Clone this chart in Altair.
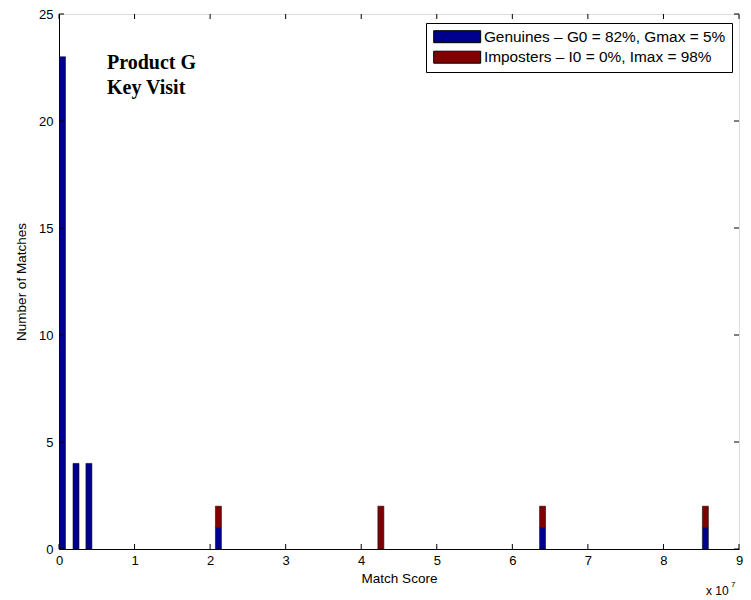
import altair as alt
import pandas as pd

# Bin centres (in units of 1e7) and counts per series
centers = [0.046, 0.225, 0.396, 2.11, 4.26, 6.40, 8.555]
genuines = [23, 4, 4, 1, 0, 1, 1]
imposters = [0, 0, 0, 1, 2, 1, 1]
series = ["Genuines \u2013 G0 = 82%, Gmax = 5%", "Imposters \u2013 I0 = 0%, Imax = 98%"]
colors = ["#00008F", "#800000"]
x_ticks = [0, 1, 2, 3, 4, 5, 6, 7, 8, 9]
y_ticks = [0, 5, 10, 15, 20, 25]
annotation = ["Product G", "Key Visit"]

W, H = 680, 535
FONT = "Liberation Sans"

rows = []
for c, g, i in zip(centers, genuines, imposters):
    rows.append({"score": c, "count": g, "series": series[0], "idx": 0})
    rows.append({"score": c, "count": i, "series": series[1], "idx": 1})
df = pd.DataFrame(rows)
df = df[df["count"] > 0]

xscale = alt.Scale(domain=[0, 9], nice=False, zero=False, padding=0)
yscale = alt.Scale(domain=[0, 25], nice=False)

bars = alt.Chart(df).mark_bar(size=6, stroke="#111111", strokeWidth=0.6).encode(
    x=alt.X("score:Q", scale=xscale,
            axis=alt.Axis(values=x_ticks, format="d", ticks=False, grid=False,
                          labelFlush=False,
                          title="Match Score", titleFont=FONT, titleFontSize=13.5,
                          titleFontWeight="normal", titleColor="black", titlePadding=4,
                          labelFont=FONT, labelFontSize=13, labelColor="black",
                          labelPadding=5, domainColor="black", domainWidth=1.2)),
    y=alt.Y("count:Q", stack="zero", scale=yscale,
            axis=alt.Axis(values=y_ticks, ticks=False, grid=False,
                          title="Number of Matches", titleFont=FONT, titleFontSize=13.5,
                          titleFontWeight="normal", titleColor="black", titlePadding=10,
                          labelFont=FONT, labelFontSize=13, labelColor="black",
                          labelPadding=6, domainColor="black")),
    color=alt.Color("series:N", scale=alt.Scale(domain=series, range=colors),
                    legend=alt.Legend(title=None, orient="none", legendX=367, legendY=9,
                                      symbolType="M-1,-1L6.83,-1L6.83,1L-1,1Z",
                                      symbolSize=144, symbolStrokeColor="black",
                                      symbolStrokeWidth=1, symbolOpacity=1,
                                      labelFont=FONT, labelFontSize=15.4, labelColor="black",
                                      labelOffset=36.5, rowPadding=2.5, padding=6,
                                      strokeColor="black", fillColor="white",
                                      labelLimit=400)),
    order=alt.Order("idx:Q"),
)

xt = pd.DataFrame({"t": x_ticks})
yt = pd.DataFrame({"t": y_ticks})
tick_bottom = alt.Chart(xt).mark_rule(color="black").encode(
    x=alt.X("t:Q", scale=xscale), y=alt.value(H), y2=alt.value(H - 5))
tick_top = alt.Chart(xt).mark_rule(color="black").encode(
    x=alt.X("t:Q", scale=xscale), y=alt.value(0), y2=alt.value(5))
tick_left = alt.Chart(yt).mark_rule(color="black").encode(
    y=alt.Y("t:Q", scale=yscale), x=alt.value(0), x2=alt.value(5))
tick_right = alt.Chart(yt).mark_rule(color="black").encode(
    y=alt.Y("t:Q", scale=yscale), x=alt.value(W), x2=alt.value(W - 5))


def label(txt, x, y, **kw):
    return alt.Chart(pd.DataFrame({"t": [txt]})).mark_text(
        align="left", baseline="alphabetic", color="black", **kw
    ).encode(text="t:N", x=alt.value(x), y=alt.value(y))


title1 = label(annotation[0], 48, 55, font="Liberation Serif", fontSize=20, fontWeight="bold")
title2 = label(annotation[1], 48, 80, font="Liberation Serif", fontSize=20, fontWeight="bold")
exp_base = label("x 10", 647, 581, font=FONT, fontSize=12)
exp_sup = label("7", 672, 573, font=FONT, fontSize=8)

chart = alt.layer(bars, tick_bottom, tick_top, tick_left, tick_right,
                  title1, title2, exp_base, exp_sup).properties(
    width=W, height=H,
    autosize=alt.AutoSizeParams(type="none"),
    padding={"left": 51, "top": 6, "right": 4, "bottom": 50},
).configure_view(stroke="black", strokeWidth=1).configure(background="white")

chart.save("out.html", embed_options={"renderer": "svg", "actions": False})
